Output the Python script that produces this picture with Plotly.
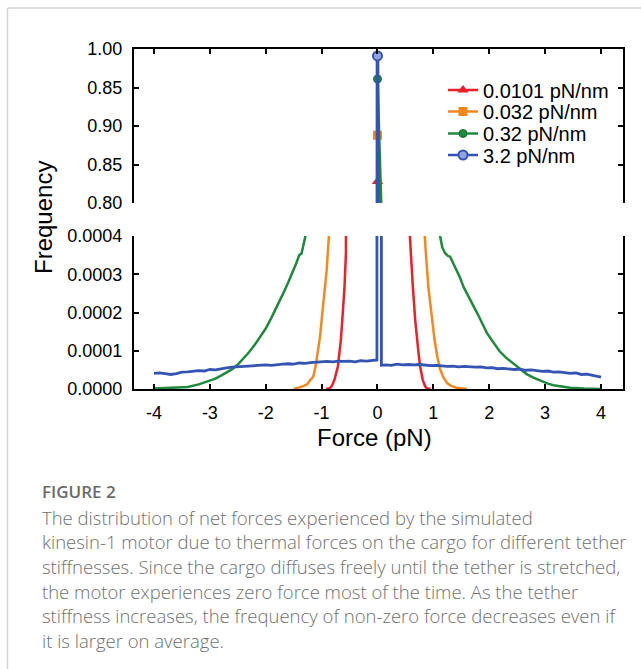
import plotly.graph_objects as go

# ---------------- data (frequency values) ----------------
labels = ["0.0101 pN/nm", "0.032 pN/nm", "0.32 pN/nm", "3.2 pN/nm"]
colors = ["#e8202a", "#f5871f", "#1f8a3e", "#3553b3"]

red_x = [-0.92, -0.85, -0.81, -0.77, -0.71, -0.68, -0.655, -0.63, -0.59, -0.565, -0.55,
         -0.5, -0.4, -0.3, -0.2, -0.1, -0.02, 0.0, 0.02, 0.1, 0.2, 0.3, 0.4, 0.5,
         0.574, 0.60, 0.633, 0.675, 0.705, 0.735, 0.764, 0.81, 0.85, 0.88, 0.95]
red_y = [0.0, 0.000002, 0.00001, 0.000024, 0.000058, 0.000093, 0.00013, 0.00018, 0.000267, 0.000355, 0.0004,
         0.0006, 0.0012, 0.0025, 0.005, 0.009, 0.011, 0.828, 0.011, 0.009, 0.005, 0.0025, 0.0012, 0.0006,
         0.0004, 0.000355, 0.000267, 0.00018, 0.00013, 0.000093, 0.000058, 0.000024, 0.000008, 0.000002, 0.0]

orange_x = [-1.5, -1.44, -1.38, -1.32, -1.26, -1.2, -1.15, -1.11, -1.07, -1.03, -1.0, -0.97, -0.94, -0.91, -0.89, -0.86,
            -0.8, -0.6, -0.4, -0.2, -0.02, 0.0, 0.02, 0.2, 0.4, 0.6, 0.8,
            0.84, 0.866, 0.91, 0.97, 1.02, 1.07, 1.12, 1.18, 1.25, 1.32, 1.42, 1.6]
orange_y = [0.0, 0.000002, 0.000005, 0.000008, 0.000012, 0.000024, 0.000032, 0.000058, 0.000093, 0.000135, 0.00018,
            0.00022, 0.000267, 0.00031, 0.000355, 0.0004,
            0.0005, 0.001, 0.002, 0.004, 0.0058, 0.888, 0.0058, 0.004, 0.002, 0.001, 0.0005,
            0.0004, 0.000355, 0.000267, 0.00019, 0.00013, 0.000085, 0.000052, 0.00003, 0.000015, 0.000008, 0.000003, 0.0]

green_x = [-4.0, -3.8, -3.6, -3.4, -3.2, -3.0, -2.9, -2.8, -2.7, -2.6, -2.5, -2.4, -2.3, -2.2, -2.1, -2.0,
           -1.9, -1.8, -1.7, -1.6, -1.5, -1.45, -1.4, -1.36, -1.32, -1.28,
           -1.2, -1.0, -0.8, -0.6, -0.4, -0.2, -0.02, 0.0, 0.02, 0.2, 0.4, 0.6, 0.8, 1.0,
           1.12, 1.16, 1.21, 1.26, 1.30, 1.36, 1.42, 1.48, 1.54, 1.60, 1.66, 1.72, 1.80, 1.88, 1.96,
           2.05, 2.12, 2.19, 2.30, 2.43, 2.55, 2.67, 2.80, 2.91, 3.05, 3.15, 3.30, 3.45, 3.70, 4.0]
green_y = [0.000001, 0.000002, 0.000003, 0.000005, 0.000012, 0.000021, 0.000027, 0.000035, 0.000043, 0.000052,
           0.000064, 0.00008, 0.000096, 0.000115, 0.000135, 0.000158, 0.000186, 0.000214, 0.000246, 0.000278,
           0.000311, 0.00033, 0.00035, 0.000354, 0.00038, 0.000405,
           0.00046, 0.00065, 0.0009, 0.0013, 0.0018, 0.0025, 0.0031, 0.961, 0.0031, 0.0025, 0.0018, 0.0013, 0.0009, 0.0006,
           0.0004, 0.00037, 0.000355, 0.000348, 0.000346, 0.000328, 0.000311, 0.00029, 0.000267, 0.00025, 0.000235,
           0.00022, 0.000194, 0.00017, 0.000146,
           0.000127, 0.000112, 0.000098, 0.000082, 0.000067, 0.000052, 0.000039, 0.000029, 0.000022, 0.000014,
           0.00001, 0.000006, 0.000003, 0.000001, 0.0]

blue_x = [-4.0, -3.9, -3.8, -3.7, -3.6, -3.5, -3.4, -3.3, -3.2, -3.1, -3.0, -2.9, -2.8, -2.7, -2.6, -2.5,
          -2.4, -2.3, -2.2, -2.1, -2.0, -1.9, -1.8, -1.7, -1.6, -1.5, -1.4, -1.3, -1.2, -1.1, -1.0, -0.9,
          -0.8, -0.7, -0.6, -0.5, -0.4, -0.3, -0.2, -0.1, -0.01, 0.0, 0.07,
          0.15, 0.25, 0.35, 0.45, 0.55, 0.65, 0.75, 0.85, 0.95, 1.05, 1.15, 1.25, 1.35, 1.45, 1.55, 1.65,
          1.75, 1.85, 1.95, 2.05, 2.15, 2.25, 2.35, 2.45, 2.55, 2.65, 2.75, 2.85, 2.95, 3.05, 3.15, 3.25,
          3.35, 3.45, 3.55, 3.65, 3.75, 3.85, 3.95, 4.0]
blue_y = [0.000041, 0.000042, 0.00004, 0.000038, 0.00004, 0.000044, 0.000045, 0.000046, 0.000048, 0.000047,
          0.000051, 0.00005, 0.000053, 0.000055, 0.000057, 0.000058, 0.000058, 0.00006, 0.00006, 0.000062,
          0.000063, 0.000062, 0.000064, 0.000065, 0.000066, 0.000065, 0.000068, 0.000067, 0.000069, 0.00007,
          0.000071, 0.000072, 0.000071, 0.000073, 0.000072, 0.000073, 0.000071, 0.000074, 0.000073, 0.000075,
          0.000076, 0.991, 0.000062,
          0.000063, 0.000062, 0.000065, 0.000063, 0.000064, 0.000063, 0.000064, 0.000062, 0.000061, 0.000062,
          0.00006, 0.000059, 0.00006, 0.000058, 0.000059, 0.000058, 0.000057, 0.000058, 0.000055, 0.000056,
          0.000053, 0.000054, 0.000052, 0.000051, 0.000052, 0.000049, 0.00005, 0.000047, 0.000046, 0.000047,
          0.000044, 0.000045, 0.000043, 0.000041, 0.000042, 0.000038, 0.000039, 0.000036, 0.000034, 0.000031]

series_x = [red_x, orange_x, green_x, blue_x]
series_y = [red_y, orange_y, green_y, blue_y]

x_ticks = [-4, -3, -2, -1, 0, 1, 2, 3, 4]
top_tickvals = [0.80, 0.85, 0.90, 0.95, 1.00]
top_ticktext = ["0.80", "0.85", "0.90", "0.85", "1.00"]
bot_tickvals = [0.0, 0.0001, 0.0002, 0.0003, 0.0004]

caption_title = "FIGURE 2"
caption_lines = [
    "The distribution of net forces experienced by the simulated",
    "kinesin-1 motor due to thermal forces on the cargo for different tether",
    "stiffnesses. Since the cargo diffuses freely until the tether is stretched,",
    "the motor experiences zero force most of the time. As the tether",
    "stiffness increases, the frequency of non-zero force decreases even if",
    "it is larger on average.",
]

# ---------------- styling ----------------
W, H = 641, 669
ML, MR, MT, MB = 134, 18, 49, 280
PW, PH = W - ML - MR, H - MT - MB

def px_x(p):
    return (p - ML) / PW

def px_y(p):
    return (H - MB - p) / PH

AX_FONT = "Liberation Sans, Arial, sans-serif"
markers = [
    dict(symbol="triangle-up", size=10, color=colors[0]),
    dict(symbol="square", size=9, color=colors[1]),
    dict(symbol="circle", size=8, color=colors[2], line=dict(color="#157030", width=1)),
    dict(symbol="circle", size=9, color="#8fa3e0", line=dict(color=colors[3], width=2)),
]
line_w_top = [2.5, 2.5, 2.5, 3.6]
line_w_bot = [2.5, 2.5, 2.5, 2.8]
legend_names = ["legend", "legend2", "legend3", "legend4"]
legend_y_px = [90, 111.5, 133.5, 155]

fig = go.Figure()
for i in range(4):
    xs, ys = series_x[i], series_y[i]
    for xa, ya, lw in (("x", "y", line_w_top[i]), ("x2", "y2", line_w_bot[i])):
        fig.add_trace(go.Scatter(x=xs, y=ys, xaxis=xa, yaxis=ya, mode="lines",
                                 line=dict(color=colors[i], width=lw),
                                 showlegend=False, hoverinfo="skip"))
    k = max(range(len(ys)), key=lambda j: ys[j])
    fig.add_trace(go.Scatter(x=[xs[k]], y=[ys[k]], xaxis="x", yaxis="y",
                             mode="lines+markers", name=labels[i],
                             line=dict(color=colors[i], width=2.5),
                             marker=markers[i], legend=legend_names[i],
                             showlegend=True))

xr = [-4.358, 4.394]
common_x = dict(range=xr, showline=True, linewidth=2, linecolor="black", ticks="inside",
                ticklen=5, tickwidth=2, tickcolor="black", tickvals=x_ticks,
                showgrid=False, zeroline=False)
fig.update_layout(
    width=W, height=H, margin=dict(l=ML, r=MR, t=MT, b=MB),
    paper_bgcolor="white", plot_bgcolor="white",
    font=dict(family=AX_FONT, size=18, color="black"),
    xaxis=dict(**common_x, anchor="y", side="top", showticklabels=False),
    xaxis2=dict(**common_x, anchor="y2", side="bottom", matches="x",
                ticktext=[str(v) for v in x_ticks], ticklabelstandoff=6,
                tickfont=dict(size=18)),
    yaxis=dict(domain=[px_y(203), 1.0], range=[0.80, 1.00], tickvals=top_tickvals,
               ticktext=top_ticktext, showline=True, linewidth=2, linecolor="black",
               mirror="ticks", ticks="inside", ticklen=5, tickwidth=2, tickcolor="black",
               showgrid=False, zeroline=False, ticklabelstandoff=6, anchor="x"),
    yaxis2=dict(domain=[0.0, px_y(236)], range=[0.0, 0.0004], tickvals=bot_tickvals,
                tickformat=".4f", showline=True, linewidth=2, linecolor="black",
                mirror="ticks", ticks="inside", ticklen=5, tickwidth=2, tickcolor="black",
                showgrid=False, zeroline=False, ticklabelstandoff=6, anchor="x2"),
    showlegend=True,
)
for i, ln in enumerate(legend_names):
    fig.update_layout({ln: dict(x=px_x(443), y=px_y(legend_y_px[i]), xanchor="left",
                                yanchor="middle", bgcolor="rgba(0,0,0,0)",
                                font=dict(family=AX_FONT, size=20, color="black"))})

# axis titles
fig.add_annotation(text="Frequency", xref="paper", yref="paper", x=px_x(43), y=px_y(218),
                   textangle=-90, showarrow=False, xanchor="center", yanchor="middle",
                   font=dict(family=AX_FONT, size=24, color="black"))
fig.add_annotation(text="Force (pN)", xref="paper", yref="paper", x=px_x(374), y=px_y(437),
                   showarrow=False, xanchor="center", yanchor="middle",
                   font=dict(family=AX_FONT, size=24, color="black"))

# caption
CAP_FONT = "Open Sans, Lato, sans-serif"
fig.add_annotation(text=caption_title, xref="paper", yref="paper",
                   x=px_x(40), y=px_y(491), showarrow=False, xanchor="left", yanchor="middle",
                   font=dict(family=CAP_FONT, size=17, color="#6a6a6a", weight=600))
cap_y = [517, 541.5, 566, 591, 615.5, 640]
for t, yy in zip(caption_lines, cap_y):
    fig.add_annotation(text=t, xref="paper", yref="paper", x=px_x(40), y=px_y(yy),
                       showarrow=False, xanchor="left", yanchor="middle",
                       font=dict(family=CAP_FONT, size=18.5, color="#707070", weight=300))

# light card border (top and left)
fig.add_shape(type="line", xref="paper", yref="paper", x0=px_x(7.5), x1=px_x(641),
              y0=px_y(8), y1=px_y(8), line=dict(color="#d4d4d4", width=1.5))
fig.add_shape(type="line", xref="paper", yref="paper", x0=px_x(7.5), x1=px_x(7.5),
              y0=px_y(8), y1=px_y(669), line=dict(color="#d4d4d4", width=1.5))

fig.write_html("out.html")
